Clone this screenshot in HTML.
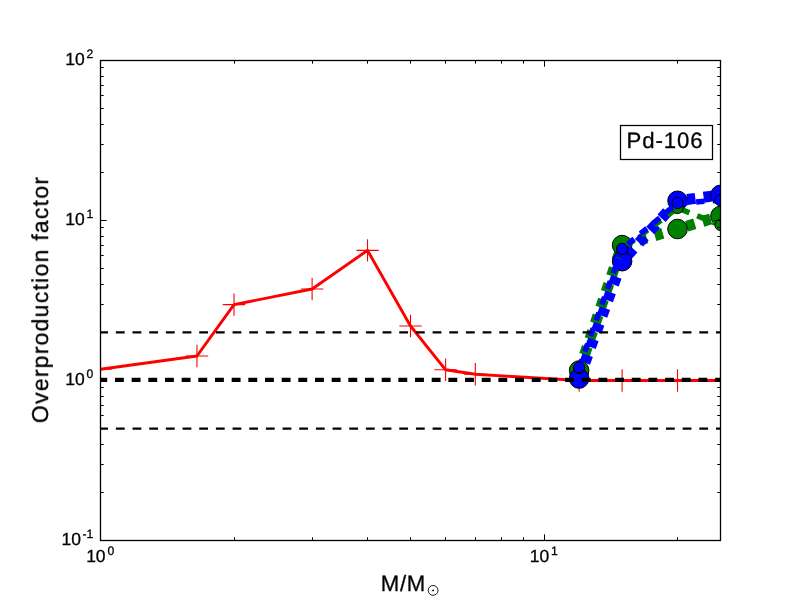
<!DOCTYPE html><html><head><meta charset="utf-8"><style>html,body{margin:0;padding:0;background:#fff;}svg{display:block;}svg{text-rendering:geometricPrecision;} .t{opacity:0.999;} text{font-family:"Liberation Sans",sans-serif;fill:#000;stroke:#000;stroke-width:0.3px;}</style></head><body>
<svg width="800" height="600" viewBox="0 0 800 600">
<defs><clipPath id="ax"><rect x="100.5" y="60.5" width="620" height="480"/></clipPath></defs>
<g clip-path="url(#ax)">
<polyline points="100.50,369.30 196.96,356.00 234.01,304.60 312.11,289.00 367.52,250.40 410.50,326.00 445.62,369.80 475.31,374.30 579.13,380.50 622.11,380.50 677.52,380.50 720.50,380.50" fill="none" stroke="#ff0000" stroke-width="2.9" stroke-linejoin="round"/>
<path d="M89.30,369.30H111.70M100.50,358.10V380.50" stroke="#ff0000" stroke-width="1.1" fill="none"/>
<path d="M185.76,356.00H208.16M196.96,344.80V367.20" stroke="#ff0000" stroke-width="1.1" fill="none"/>
<path d="M222.81,304.60H245.21M234.01,293.40V315.80" stroke="#ff0000" stroke-width="1.1" fill="none"/>
<path d="M300.91,289.00H323.31M312.11,277.80V300.20" stroke="#ff0000" stroke-width="1.1" fill="none"/>
<path d="M356.32,250.40H378.72M367.52,239.20V261.60" stroke="#ff0000" stroke-width="1.1" fill="none"/>
<path d="M399.30,326.00H421.70M410.50,314.80V337.20" stroke="#ff0000" stroke-width="1.1" fill="none"/>
<path d="M434.42,369.80H456.82M445.62,358.60V381.00" stroke="#ff0000" stroke-width="1.1" fill="none"/>
<path d="M464.11,374.30H486.51M475.31,363.10V385.50" stroke="#ff0000" stroke-width="1.1" fill="none"/>
<path d="M567.93,380.50H590.33M579.13,369.30V391.70" stroke="#ff0000" stroke-width="1.1" fill="none"/>
<path d="M610.91,380.50H633.31M622.11,369.30V391.70" stroke="#ff0000" stroke-width="1.1" fill="none"/>
<path d="M666.32,380.50H688.72M677.52,369.30V391.70" stroke="#ff0000" stroke-width="1.1" fill="none"/>
<path d="M709.30,380.50H731.70M720.50,369.30V391.70" stroke="#ff0000" stroke-width="1.1" fill="none"/>
<polyline points="579.13,370.50 622.11,245.10 677.52,229.00 720.50,216.00" fill="none" stroke="#008000" stroke-width="11" stroke-dasharray="8.33 8.33" stroke-dashoffset="0"/>
<circle cx="579.13" cy="370.50" r="9.80" fill="#008000" stroke="#000" stroke-width="1"/>
<circle cx="622.11" cy="245.10" r="9.80" fill="#008000" stroke="#000" stroke-width="1"/>
<circle cx="677.52" cy="229.00" r="9.80" fill="#008000" stroke="#000" stroke-width="1"/>
<circle cx="720.50" cy="216.00" r="9.80" fill="#008000" stroke="#000" stroke-width="1"/>
<polyline points="579.13,378.50 622.11,261.20 677.52,200.80 720.50,194.90" fill="none" stroke="#0000ff" stroke-width="11" stroke-dasharray="8.33 8.33" stroke-dashoffset="0"/>
<circle cx="579.13" cy="378.50" r="9.80" fill="#0000ff" stroke="#000" stroke-width="1"/>
<circle cx="622.11" cy="261.20" r="9.80" fill="#0000ff" stroke="#000" stroke-width="1"/>
<circle cx="677.52" cy="200.80" r="9.80" fill="#0000ff" stroke="#000" stroke-width="1"/>
<circle cx="720.50" cy="194.90" r="9.80" fill="#0000ff" stroke="#000" stroke-width="1"/>
<polyline points="579.13,368.00 622.11,249.00 677.52,208.00 720.50,225.00" fill="none" stroke="#008000" stroke-width="5.5" stroke-dasharray="8.33 8.33" stroke-dashoffset="0"/>
<circle cx="579.13" cy="368.00" r="5.60" fill="#008000" stroke="#000" stroke-width="1"/>
<circle cx="622.11" cy="249.00" r="5.60" fill="#008000" stroke="#000" stroke-width="1"/>
<circle cx="677.52" cy="208.00" r="5.60" fill="#008000" stroke="#000" stroke-width="1"/>
<circle cx="720.50" cy="225.00" r="5.60" fill="#008000" stroke="#000" stroke-width="1"/>
<polyline points="579.13,367.40 622.11,248.90 677.52,203.10 720.50,200.30" fill="none" stroke="#0000ff" stroke-width="5.5" stroke-dasharray="8.33 8.33" stroke-dashoffset="0"/>
<circle cx="579.13" cy="367.40" r="5.60" fill="#0000ff" stroke="#000" stroke-width="1"/>
<circle cx="622.11" cy="248.90" r="5.60" fill="#0000ff" stroke="#000" stroke-width="1"/>
<circle cx="677.52" cy="203.10" r="5.60" fill="#0000ff" stroke="#000" stroke-width="1"/>
<circle cx="720.50" cy="200.30" r="5.60" fill="#0000ff" stroke="#000" stroke-width="1"/>
<line x1="100.5" y1="332.34" x2="720.5" y2="332.34" stroke="#000" stroke-width="2.4" stroke-dasharray="8.8 7.87" stroke-dashoffset="1.3"/>
<line x1="100.5" y1="379.8" x2="720.5" y2="379.8" stroke="#000" stroke-width="4.3" stroke-dasharray="8.9 7.77" stroke-dashoffset="2.2"/>
<line x1="100.5" y1="428.66" x2="720.5" y2="428.66" stroke="#000" stroke-width="2.4" stroke-dasharray="8.8 7.87" stroke-dashoffset="1.3"/>
</g>
<path d="M100.50,540.5V534.30M100.50,60.5V66.70M234.50,540.5V537.30M234.50,60.5V63.70M312.50,540.5V537.30M312.50,60.5V63.70M367.50,540.5V537.30M367.50,60.5V63.70M410.50,540.5V537.30M410.50,60.5V63.70M445.50,540.5V537.30M445.50,60.5V63.70M475.50,540.5V537.30M475.50,60.5V63.70M501.50,540.5V537.30M501.50,60.5V63.70M523.50,540.5V537.30M523.50,60.5V63.70M544.50,540.5V534.30M544.50,60.5V66.70M677.50,540.5V537.30M677.50,60.5V63.70M100.5,540.50H106.70M720.5,540.50H714.30M100.5,492.50H103.70M720.5,492.50H717.30M100.5,464.50H103.70M720.5,464.50H717.30M100.5,444.50H103.70M720.5,444.50H717.30M100.5,428.50H103.70M720.5,428.50H717.30M100.5,415.50H103.70M720.5,415.50H717.30M100.5,405.50H103.70M720.5,405.50H717.30M100.5,396.50H103.70M720.5,396.50H717.30M100.5,387.50H103.70M720.5,387.50H717.30M100.5,380.50H106.70M720.5,380.50H714.30M100.5,332.50H103.70M720.5,332.50H717.30M100.5,304.50H103.70M720.5,304.50H717.30M100.5,284.50H103.70M720.5,284.50H717.30M100.5,268.50H103.70M720.5,268.50H717.30M100.5,255.50H103.70M720.5,255.50H717.30M100.5,245.50H103.70M720.5,245.50H717.30M100.5,236.50H103.70M720.5,236.50H717.30M100.5,227.50H103.70M720.5,227.50H717.30M100.5,220.50H106.70M720.5,220.50H714.30M100.5,172.50H103.70M720.5,172.50H717.30M100.5,144.50H103.70M720.5,144.50H717.30M100.5,124.50H103.70M720.5,124.50H717.30M100.5,108.50H103.70M720.5,108.50H717.30M100.5,95.50H103.70M720.5,95.50H717.30M100.5,85.50H103.70M720.5,85.50H717.30M100.5,76.50H103.70M720.5,76.50H717.30M100.5,67.50H103.70M720.5,67.50H717.30" stroke="#000" stroke-width="1.0" fill="none"/>
<rect x="100.5" y="60.5" width="620" height="480" fill="none" stroke="#000" stroke-width="1.3"/>
<rect x="620.5" y="125.5" width="92" height="34" fill="#fff" stroke="#000" stroke-width="1.25"/>
<g class="t">
<text x="84.8" y="65.2" font-size="17.5" text-anchor="end">10</text><text x="86.5" y="58.2" font-size="12.2">2</text>
<text x="84.8" y="225.2" font-size="17.5" text-anchor="end">10</text><text x="86.5" y="218.2" font-size="12.2">1</text>
<text x="84.8" y="385.2" font-size="17.5" text-anchor="end">10</text><text x="86.5" y="378.2" font-size="12.2">0</text>
<text x="81" y="545.2" font-size="17.5" text-anchor="end">10</text><text x="82.5" y="538.2" font-size="12.2">-1</text>
<text x="105.6" y="561.8" font-size="17.5" text-anchor="end">10</text><text x="107.5" y="554.8" font-size="12.2">0</text>
<text x="549.3" y="561.8" font-size="17.5" text-anchor="end">10</text><text x="551" y="554.8" font-size="12.2">1</text>
<text x="380.8" y="591" font-size="22.2" letter-spacing="0.7">M/M</text>
<circle cx="433.1" cy="590.4" r="4.9" fill="none" stroke="#000" stroke-width="0.9"/><circle cx="433.1" cy="590.4" r="0.9" fill="#000"/>
<text transform="translate(48,423.2) rotate(-90)" font-size="23" letter-spacing="1.25">Overproduction factor</text>
<text x="626.6" y="147.8" font-size="22.2" letter-spacing="0.9">Pd-106</text>
</g></svg></body></html>
